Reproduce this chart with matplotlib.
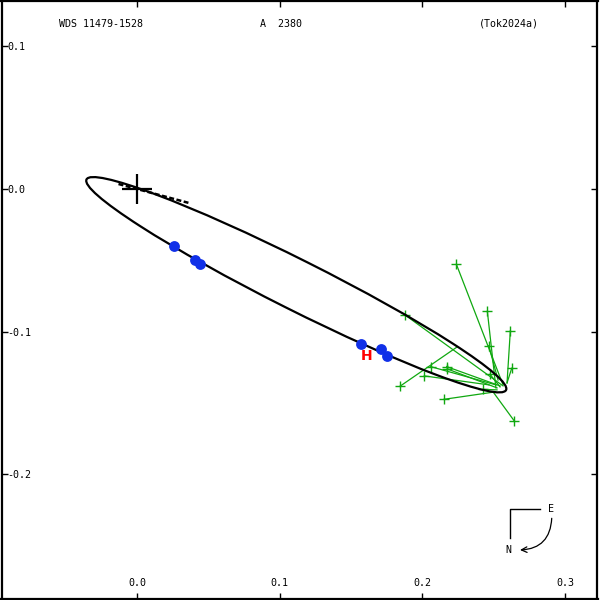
import matplotlib
matplotlib.use("Agg")
import matplotlib.pyplot as plt
from matplotlib.patches import Ellipse

plt.rcParams['font.family'] = 'DejaVu Sans Mono'

# orbit (apparent ellipse), arcsec
orbit_center = (0.1116, -0.0671)
orbit_a = 0.1645
orbit_b = 0.0175
orbit_angle = -26.66

# line of nodes
nodes_x = [-0.013, 0.036]
nodes_y = [0.0035, -0.0097]

# measures: blue = precise, green = visual/other
blue_x = [0.0259, 0.0406, 0.0441, 0.1570, 0.1710, 0.1752]
blue_y = [-0.0399, -0.0498, -0.0526, -0.1086, -0.1121, -0.1170]

green_x = [0.2238, 0.2455, 0.2616, 0.2465, 0.2626, 0.2058, 0.2170, 0.2174,
           0.2013, 0.1845, 0.2474, 0.2151, 0.2644, 0.2427, 0.1878]
green_y = [-0.0528, -0.0857, -0.0995, -0.1098, -0.1256, -0.1245, -0.1245, -0.1261,
           -0.1310, -0.1381, -0.1299, -0.1474, -0.1626, -0.1404, -0.0883]
# predicted positions on the orbit (O-C lines)
calc_x = [0.2565, 0.2515, 0.2593, 0.2530, 0.2593, 0.2516, 0.2544, 0.2523,
          0.2467, 0.2243, 0.2544, 0.2509, 0.2495, 0.2523, 0.2565]
calc_y = [-0.1373, -0.1394, -0.1359, -0.1339, -0.1359, -0.1373, -0.1380, -0.1394,
          -0.1373, -0.1107, -0.1387, -0.1422, -0.1422, -0.1408, -0.1380]

xticks = [0.0, 0.1, 0.2, 0.3]
yticks = [0.1, 0.0, -0.1, -0.2]

fig = plt.figure(figsize=(6, 6), dpi=100)
ax = fig.add_axes([1.5 / 600, 1.5 / 600, 596 / 600, 598 / 600])
ax.set_xlim(-0.0950, 0.3227)
ax.set_ylim(-0.2870, 0.1321)

for s in ax.spines.values():
  s.set_linewidth(1.6)

ax.add_patch(Ellipse(orbit_center, 2 * orbit_a, 2 * orbit_b, angle=orbit_angle,
                     fill=False, edgecolor='black', linewidth=1.6, zorder=3))
ax.plot(nodes_x, nodes_y, color='black', linewidth=1.8, linestyle=(0, (2, 1)), zorder=3)

# primary
ax.plot([0], [0], marker='+', markersize=22, markeredgewidth=1.6, color='black', zorder=4)

for gx, gy, cx, cy in zip(green_x, green_y, calc_x, calc_y):
  ax.plot([gx, cx], [gy, cy], color='#10a810', linewidth=0.9, zorder=2)
ax.plot(green_x, green_y, '+', color='#10a810', markersize=7, markeredgewidth=1.0, zorder=2)

ax.plot(blue_x, blue_y, 'o', color='#1030e8', markersize=7.8, markeredgewidth=0, zorder=5)

ax.text(0.1609, -0.1173, 'H', color='red', fontsize=10, fontweight='bold',
        family='DejaVu Sans', ha='center', va='center', zorder=6)

ax.set_xticks(xticks)
ax.set_xticklabels(['%.1f' % v for v in xticks])
ax.set_yticks(yticks)
ax.set_yticklabels(['%.1f' % v for v in yticks])
ax.tick_params(axis='both', direction='in', length=4, width=1, labelsize=7.2,
               top=True, right=True)
ax.tick_params(axis='y', pad=-4)
ax.tick_params(axis='x', pad=-7.5)
plt.setp(ax.get_yticklabels(), ha='left')
plt.setp(ax.get_xticklabels(), va='bottom')

ax.text(101 / 600, 1 - 24 / 600, 'WDS 11479-1528', transform=fig.transFigure,
        fontsize=7.2, ha='center', va='center')
ax.text(281 / 600, 1 - 24 / 600, 'A  2380', transform=fig.transFigure,
        fontsize=7.2, ha='center', va='center')
ax.text(509 / 600, 1 - 24 / 600, '(Tok2024a)', transform=fig.transFigure,
        fontsize=7.2, ha='center', va='center')

# compass
ax.plot([0.9035, 0.8532, 0.8532], [0.1492, 0.1492, 0.1007], color='black',
        linewidth=1.0, transform=ax.transAxes)
ax.text(0.9215, 0.1492, 'E', transform=ax.transAxes, fontsize=7.2, ha='center', va='center')
ax.text(0.8503, 0.0811, 'N', transform=ax.transAxes, fontsize=7.2, ha='center', va='center')
ax.annotate('', xy=(0.8700, 0.0811), xytext=(0.9232, 0.1341),
            xycoords='axes fraction', textcoords='axes fraction',
            arrowprops=dict(arrowstyle='->', color='black', linewidth=0.9,
                            connectionstyle='arc3,rad=-0.45', shrinkA=0, shrinkB=0))

plt.savefig("out.png", dpi=100)
